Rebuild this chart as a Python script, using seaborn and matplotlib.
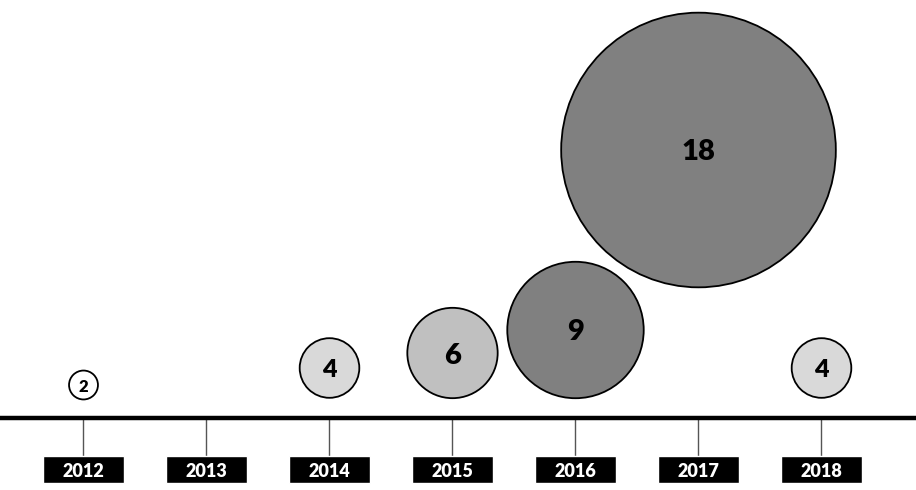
import matplotlib
matplotlib.use("Agg")
import matplotlib.pyplot as plt
import seaborn as sns
import pandas as pd
import numpy as np

# data
years = [2012, 2013, 2014, 2015, 2016, 2017, 2018]
bubble_years = [2012, 2014, 2015, 2016, 2017, 2018]
counts = [2, 4, 6, 9, 18, 4]

# layout (y in pixels from the bottom of the figure)
bubble_y = [105, 122, 137, 160, 340, 122]
shades = {"2012": "#ffffff", "2014": "#d9d9d9", "2015": "#c0c0c0",
          "2016": "#808080", "2017": "#808080", "2018": "#d9d9d9"}
label_size = {2: 12, 4: 18, 6: 21, 9: 21, 18: 21}

sns.set_theme(style="white")
plt.rcParams["font.family"] = ["Lato", "DejaVu Sans"]

df = pd.DataFrame({"year": bubble_years, "y": bubble_y, "count": counts,
                   "label": [str(y) for y in bubble_years]})

fig = plt.figure(figsize=(9.16, 4.9), dpi=100)
ax = fig.add_axes([0, 0, 1, 1])
ax.set_xlim(2012 - 83.5 / 123, 2012 + (916 - 83.5) / 123)
ax.set_ylim(0, 490)

# bubble diameter grows linearly with the count
lw = 1.3
px_per_unit = 15.36 * 0.72
sizes = {c: (c * px_per_unit - lw) ** 2 for c in set(counts)}

sns.scatterplot(data=df, x="year", y="y", size="count", sizes=sizes,
                hue="label", palette=shades, edgecolor="black",
                linewidth=lw, legend=False, ax=ax, zorder=3)

for yr, yc, c in zip(bubble_years, bubble_y, counts):
    ax.text(yr, yc, str(c), ha="center", va="center_baseline",
            fontsize=label_size[c], fontweight="heavy", color="black", zorder=4)

# timeline
ax.axhline(72, color="black", lw=3.2, zorder=2)
ax.vlines(years, 34, 71, color="#555555", lw=1, zorder=1)
ax.bar(years, 27, bottom=7, width=81 / 123, color="black", zorder=2)
for yr in years:
    ax.text(yr, 20, str(yr), ha="center", va="center_baseline",
            fontsize=13, fontweight="heavy", color="white", zorder=3)

ax.axis("off")
plt.savefig("out.png", dpi=100)
